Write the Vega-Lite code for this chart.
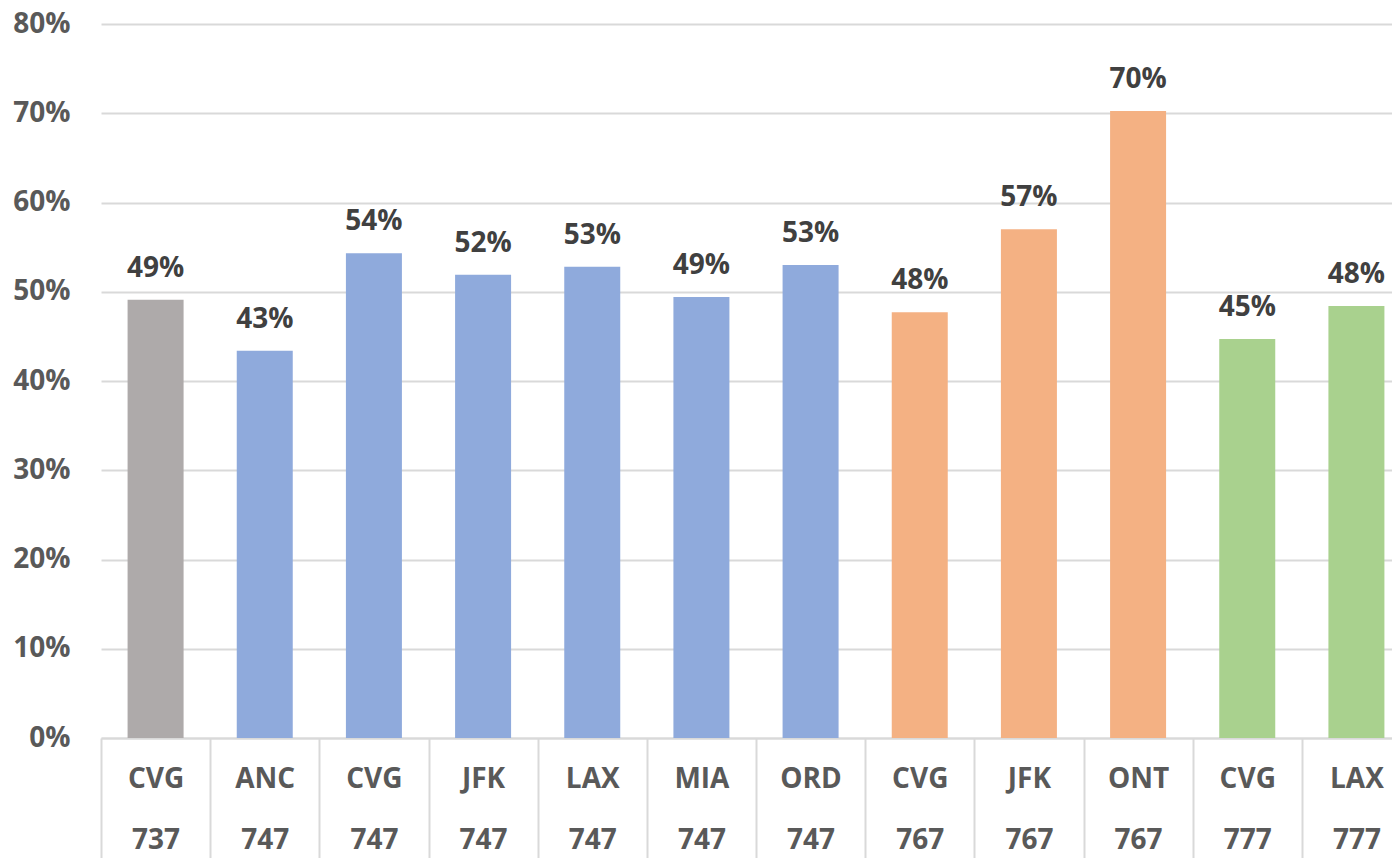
{
  "$schema": "https://vega.github.io/schema/vega-lite/v6.json",
  "autosize": {"type": "none"},
  "width": 1291,
  "height": 714,
  "padding": {"left": 101, "top": 24, "right": 0, "bottom": 120},
  "background": "white",
  "config": {"view": {"stroke": null}},
  "data": {
    "values": [
      {"key": "CVG\n737", "airport": "CVG", "type": "737", "value": 0.491},
      {"key": "ANC\n747", "airport": "ANC", "type": "747", "value": 0.434},
      {"key": "CVG\n747", "airport": "CVG", "type": "747", "value": 0.543},
      {"key": "JFK\n747", "airport": "JFK", "type": "747", "value": 0.519},
      {"key": "LAX\n747", "airport": "LAX", "type": "747", "value": 0.528},
      {"key": "MIA\n747", "airport": "MIA", "type": "747", "value": 0.494},
      {"key": "ORD\n747", "airport": "ORD", "type": "747", "value": 0.530},
      {"key": "CVG\n767", "airport": "CVG", "type": "767", "value": 0.477},
      {"key": "JFK\n767", "airport": "JFK", "type": "767", "value": 0.570},
      {"key": "ONT\n767", "airport": "ONT", "type": "767", "value": 0.7025},
      {"key": "CVG\n777", "airport": "CVG", "type": "777", "value": 0.447},
      {"key": "LAX\n777", "airport": "LAX", "type": "777", "value": 0.484}
    ]
  },
  "encoding": {
    "x": {
      "field": "key",
      "type": "nominal",
      "sort": null,
      "scale": {"range": [0, 1310], "paddingInner": 0, "paddingOuter": 0},
      "axis": {
        "title": null,
        "labelAngle": 0,
        "labelExpr": "split(datum.label, '\\n')",
        "labelFont": "Open Sans",
        "labelFontWeight": "bold",
        "labelFontSize": 28,
        "labelColor": "#595959",
        "labelLineHeight": 61,
        "labelBaseline": "top",
        "labelPadding": -93,
        "tickBand": "extent",
        "tickSize": 120,
        "tickColor": "#d9d9d9",
        "tickWidth": 2,
        "domainColor": "#d9d9d9",
        "domainWidth": 2,
        "grid": false
      }
    },
    "y": {
      "field": "value",
      "type": "quantitative",
      "scale": {"domain": [0, 0.8]},
      "axis": {
        "title": null,
        "format": ".0%",
        "values": [0, 0.1, 0.2, 0.3, 0.4, 0.5, 0.6, 0.7, 0.8],
        "labelFont": "Open Sans",
        "labelFontWeight": "bold",
        "labelFontSize": 28,
        "labelColor": "#595959",
        "labelPadding": 31,
        "ticks": false,
        "domain": false,
        "grid": true,
        "gridColor": "#d9d9d9",
        "gridWidth": 2
      }
    }
  },
  "layer": [
    {
      "mark": {"type": "bar", "size": 56},
      "encoding": {
        "color": {
          "field": "type",
          "type": "nominal",
          "scale": {"domain": ["737", "747", "767", "777"], "range": ["#AEAAAA", "#8FAADC", "#F4B183", "#A9D18E"]},
          "legend": null
        }
      }
    },
    {
      "mark": {"type": "text", "dy": -31, "font": "Open Sans", "fontWeight": "bold", "fontSize": 28, "color": "#404040"},
      "encoding": {
        "text": {"field": "value", "type": "quantitative", "format": ".0%"}
      }
    }
  ]
}
